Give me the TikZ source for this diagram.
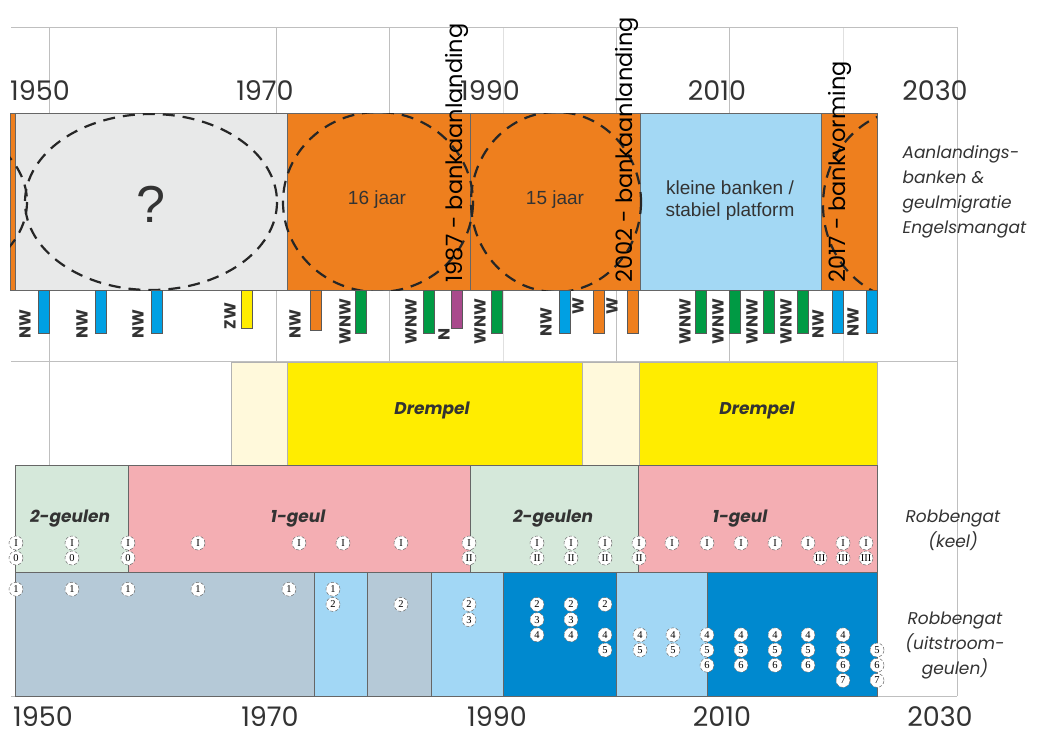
\documentclass[tikz,border=0pt]{standalone}
\usepackage{fontspec}
\setmainfont{Poppins}
\newfontfamily\arialfont{Liberation Sans}
\newfontfamily\numfont{Liberation Serif}
\usepackage{xcolor}
\usetikzlibrary{positioning}

\definecolor{bankorange}{HTML}{EE7F1E}
\definecolor{bandgrey}{HTML}{E8E9E9}
\definecolor{skyblue}{HTML}{A3D8F4}
\definecolor{windblue}{HTML}{00A0E3}
\definecolor{windgreen}{HTML}{009A44}
\definecolor{windpurple}{HTML}{A94A8C}
\definecolor{drempelyellow}{HTML}{FFED00}
\definecolor{drempelcream}{HTML}{FFF9DB}
\definecolor{keelgreen}{HTML}{D5E8DA}
\definecolor{keelpink}{HTML}{F4AEB3}
\definecolor{greyblue}{HTML}{B5C9D7}
\definecolor{lightblue}{HTML}{A2D7F5}
\definecolor{darkblue}{HTML}{0089CF}
\definecolor{inkgrey}{HTML}{333333}

\begin{document}
\begin{tikzpicture}[
        x=1pt, y=-1pt,
        every node/.style={text=inkgrey},
        gridline/.style={draw=black!25, line width=0.8pt},
        faintline/.style={draw=black!12, line width=0.8pt},
        box/.style={draw=black!60, line width=0.8pt},
        softbox/.style={draw=black!30, line width=0.6pt},
        bar/.style={draw=black!65, line width=0.6pt},
        year/.style={inner sep=0pt, font=\fontsize{27}{27}\selectfont},
        event/.style={rotate=90, anchor=west, text=black, font=\fontsize{22.5}{22.5}\selectfont},
        wind/.style={rotate=90, anchor=west, font=\fontsize{16}{16}\selectfont\bfseries},
        period/.style={draw=black!85, line width=2.2pt, dash pattern=on 12pt off 8pt},
        bandlabel/.style={font=\fontsize{17}{17}\selectfont\bfseries\itshape},
        sidelabel/.style={font=\fontsize{17}{25}\selectfont\itshape},
        arial/.style={font=\arialfont\fontsize{19}{22}\selectfont, align=center},
        num/.style={circle, draw=black!60, densely dashed, line width=0.5pt,
            fill=white, inner sep=0pt, minimum size=14pt,
            font=\numfont\fontsize{10.5}{10.5}\selectfont, text=black}
    ]
    \useasboundingbox (0,0) rectangle (1047,737);

    % grid
    \foreach \x in {49,276,389,616,729,957}
        \draw[gridline] (\x,27) -- (\x,696);
    \foreach \x in {503,843}
        \draw[faintline] (\x,27) -- (\x,696);
    \foreach \y in {27,361,696}
        \draw[gridline] (11,\y) -- (957,\y);

    % years
    \foreach \x/\t in {40/1950,265/1970,490/1990,717/2010,935/2030}
        \node[year] (top\t) at (\x,91) {\t};
    \foreach \x/\t in {43/1950,270/1970,497/1990,722/2010,940/2030}
        \node[year] (bot\t) at (\x,717) {\t};

    % aanlandingsbanken
    \foreach \a/\b/\c in {10/15/bankorange,15/287/bandgrey,287/470/bankorange,
                          470/640/bankorange,640/821/skyblue,821/877/bankorange}
        \draw[box, fill=\c] (\a,113) rectangle (\b,290);
    \begin{scope}
        \clip (10,113) rectangle (877,290);
        \draw[period] (-99,202) ellipse [x radius=126, y radius=88];
        \draw[period] (151,202) ellipse [x radius=126, y radius=88];
        \draw[period] (378,202) ellipse [x radius=95, y radius=90];
        \draw[period] (556,202) ellipse [x radius=85, y radius=90];
        \draw[period] (913,205) ellipse [x radius=90, y radius=96];
    \end{scope}
    \node[font=\arialfont\fontsize{52}{52}\selectfont] (unknown) at (151,204) {?};
    \node[arial] (jaar16) at (377,200) {16 jaar};
    \node[arial] (jaar15) at (555,200) {15 jaar};
    \node[arial] (platform) at (730,201) {kleine banken /\\stabiel platform};
    \node[event] (ev1987) at (457,286) {1987 - bankaanlanding};
    \node[event] (ev2002) at (627,286) {2002 - bankaanlanding};
    \node[event] (ev2017) at (840,286) {2017 - bankvorming};

    % wind
    \foreach \x/\c/\h in {38/windblue/333,95/windblue/333,151/windblue/333,
                          241/drempelyellow/328,310/bankorange/330,355/windgreen/333,
                          423/windgreen/333,451/windpurple/328,491/windgreen/333,
                          559/windblue/333,593/bankorange/333,627/bankorange/333,
                          695/windgreen/333,729/windgreen/333,763/windgreen/333,
                          797/windgreen/333,832/windblue/333,866/windblue/333}
        \draw[bar, fill=\c] (\x,290) rectangle ({\x+11},\h);
    \foreach \x/\y/\t [count=\i] in {25/342/NW,82/342/NW,138/342/NW,230/333/ZW,
                                     295/342/NW,345/348/WNW,411/348/WNW,444/344/N,
                                     480/348/WNW,546/340/NW,578/318/W,612/318/W,
                                     685/348/WNW,718/348/WNW,752/348/WNW,786/348/WNW,
                                     818/342/NW,853/340/NW}
        \node[wind] (w\i) at (\x,\y) {\t};

    % drempel
    \foreach \a/\b/\c in {231/287/drempelcream,287/582/drempelyellow,
                          582/639/drempelcream,639/877/drempelyellow}
        \draw[softbox, fill=\c] (\a,362) rectangle (\b,465);
    \node[bandlabel] (drempel1) at (432,410) {Drempel};
    \node[bandlabel] (drempel2) at (757,410) {Drempel};

    % keel
    \foreach \a/\b/\c in {15/128/keelgreen,128/470/keelpink,470/638/keelgreen,638/877/keelpink}
        \draw[box, fill=\c] (\a,465) rectangle (\b,572);
    \node[bandlabel] (keel1) at (70,519) {2-geulen};
    \node[bandlabel] (keel2) at (298,519) {1-geul};
    \node[bandlabel] (keel3) at (553,519) {2-geulen};
    \node[bandlabel] (keel4) at (740,519) {1-geul};
    \foreach \x/\labs in {16/{I,0},72/{I,0},128/{I,0},198/I,299/I,343/I,401/I,
                          469/{I,II},537/{I,II},571/{I,II},605/{I,II},639/{I,II},
                          672/I,707/I,741/I,775/I,808/I,843/{I,III},866/{I,III}}
        \foreach \l [count=\i] in \labs
            \node[num] (k\x-\i) at (\x,{528+15*\i}) {\l};
    \node[num] (k820) at (820,558) {III};

    % uitstroomgeulen
    \foreach \a/\b/\c in {15/314/greyblue,314/367/lightblue,367/431/greyblue,
                          431/503/lightblue,503/616/darkblue,616/707/lightblue,707/877/darkblue}
        \draw[box, fill=\c] (\a,572) rectangle (\b,696);
    \foreach \x/\labs in {16/1,72/1,128/1,198/1,289/1,333/{1,2},401/2,469/{2,3},
                          537/{2,3,4},571/{2,3,4},605/{2,4,5},640/{4,5},673/{4,5},
                          707/{4,5,6},741/{4,5,6},775/{4,5,6},808/{4,5,6},
                          843/{4,5,6,7},877/{5,6,7}}
        \foreach \n in \labs
            \node[num] (u\x-\n) at (\x,{574+15.2*\n}) {\n};

    % legend
    \node[sidelabel, align=left, anchor=west] (engelsmangat) at (899,192)
        {Aanlandings-\\banken \&\\geulmigratie\\Engelsmangat};
    \node[sidelabel, align=center] (keel) at (953,530) {Robbengat\\(keel)};
    \node[sidelabel, align=center] (uitstroom) at (955,645) {Robbengat\\(uitstroom-\\geulen)};
\end{tikzpicture}
\end{document}
